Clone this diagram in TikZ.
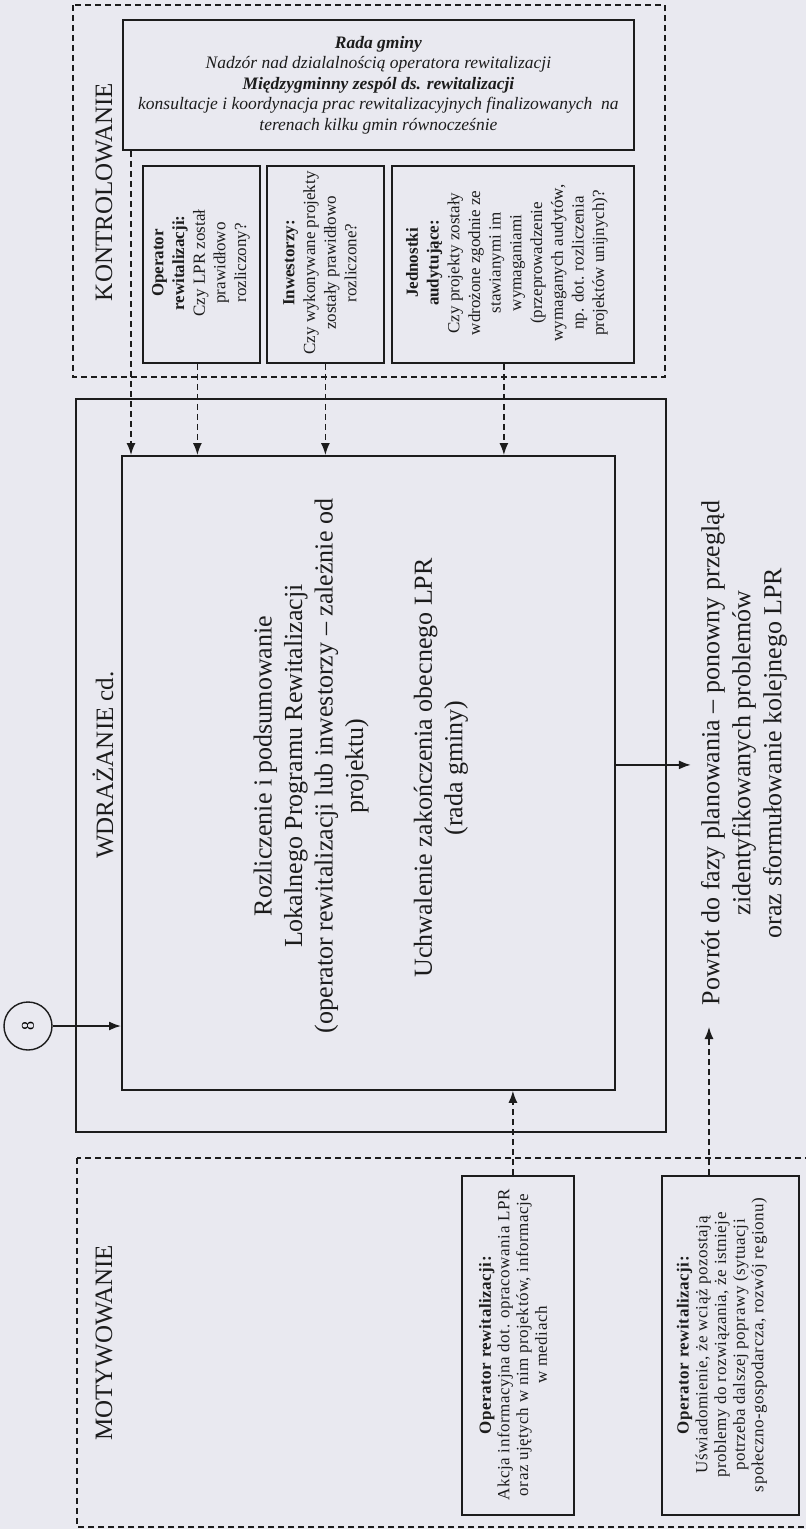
\documentclass[tikz,border=0pt]{standalone}
\usepackage{fontspec}
\setmainfont{Liberation Serif}
\usetikzlibrary{arrows.meta}
\definecolor{paper}{HTML}{E9E9F0}
\definecolor{ink}{HTML}{1C1C1C}
\newcommand{\fsz}[2]{\fontsize{#1}{#2}\selectfont}

\begin{document}
\begin{tikzpicture}[x=1pt,y=-1pt,
  box/.style={draw=ink,line width=1.8pt,rectangle,inner sep=0pt,anchor=north west},
  zone/.style={draw=ink,line width=1.4pt,dash pattern=on 6pt off 4pt},
  link/.style={draw=ink,line width=1.4pt,dash pattern=on 6pt off 4pt,-{Latex[length=12pt,width=9pt]}},
  flow/.style={draw=ink,line width=1.6pt,-{Latex[length=12pt,width=9pt]}},
  vtext/.style={rotate=90,align=center,inner sep=2pt,text=ink},
  title/.style={vtext,font=\fsz{25}{30}},
  big/.style={vtext,font=\fsz{26}{30.5}},
  small/.style={vtext,font=\fsz{17}{20.7}},
  tiny/.style={vtext,font=\fsz{17}{18.7}\addfontfeature{LetterSpace=3}},
]
\fill[paper] (0,0) rectangle (806,1529);
\useasboundingbox (0,0) rectangle (806,1529);
\clip (0,0) rectangle (806,1529);

% ---------- KONTROLOWANIE ----------
\draw[zone] (73,5) rectangle (665,377);
\node[title] (kontr) at (104,192) {KONTROLOWANIE};

\node[box,minimum width=511pt,minimum height=130pt] (rada) at (122,19) {};
\node[align=center,text=ink,font=\fsz{17.5}{20.5}\itshape] (radatxt) at (rada.center)
  {\textbf{Rada gminy}\\
   Nadzór nad dzialalnością operatora rewitalizacji\\
   \textbf{Międzygminny zespól ds. rewitalizacji}\\
   konsultacje i koordynacja prac rewitalizacyjnych finalizowanych\ \ na\\
   terenach kilku gmin równocześnie};

\node[box,minimum width=117pt,minimum height=197pt] (b1) at (142,165) {};
\node[box,minimum width=117pt,minimum height=197pt] (b2) at (266,165) {};
\node[box,minimum width=242pt,minimum height=197pt] (b3) at (391,165) {};

\node[small] (b1txt) at (201,263)
  {\textbf{Operator}\\\textbf{rewitalizacji:}\\Czy LPR został\\prawidłowo\\rozliczony?};
\node[small] (b2txt) at (320,263)
  {\textbf{Inwestorzy:}\\Czy wykonywane projekty\\zostały prawidłowo\\rozliczone?};
\node[small] (b3txt) at (507,263)
  {\textbf{Jednostki}\\\textbf{audytujące:}\\Czy projekty zostały\\wdrożone zgodnie ze\\stawianymi im\\wymaganiami\\(przeprowadzenie\\wymaganych audytów,\\np. dot. rozliczenia\\projektów unijnych)?};

% ---------- WDRAŻANIE ----------
\node[box,minimum width=590pt,minimum height=733pt] (wdr) at (75,398) {};
\node[title] (wdrt) at (103,765) {WDRAŻANIE cd.};
\node[box,minimum width=493pt,minimum height=634pt] (inner) at (121,455) {};

\node[big] (rozl) at (311,766)
  {Rozliczenie i podsumowanie\\Lokalnego Programu Rewitalizacji\\(operator rewitalizacji lub inwestorzy – zależnie od\\projektu)};
\node[big] (uchw) at (441,768)
  {Uchwalenie zakończenia obecnego LPR\\(rada gminy)};

\node[draw=ink,circle,line width=1.4pt,minimum size=48pt,inner sep=0pt,
      rotate=90,font=\fsz{18}{20}] (eight) at (28,1026) {8};
\draw[flow] (eight) -- (eight -| inner.west);

\node[big,font=\fsz{26}{31}] (powrot) at (744,753)
  {Powrót do fazy planowania – ponowny przegląd\\zidentyfikowanych problemów\\oraz sformułowanie kolejnego LPR};
\draw[flow,shorten >=8pt] ([yshift=8pt]inner.east) -- ([yshift=8pt]inner.east -| powrot.north);

% control links into the implementation box
\draw[link] ([xshift=9pt]rada.south west) -- ([xshift=9pt]rada.south west |- inner.north);
\draw[link] ([xshift=-4pt]b1.south) -- ([xshift=-4pt]b1.south |- inner.north);
\draw[link] (b2.south) -- (b2.south |- inner.north);
\draw[link] ([xshift=-9pt]b3.south) -- ([xshift=-9pt]b3.south |- inner.north);

% ---------- MOTYWOWANIE ----------
\draw[zone] (77,1158) rectangle (840,1527);
\node[title] (motyw) at (104,1343) {MOTYWOWANIE};

\node[box,minimum width=112pt,minimum height=339pt] (akcja) at (461,1175) {};
\node[box,minimum width=137pt,minimum height=339pt] (usw) at (661,1175) {};

\node[tiny] (akcjatxt) at (513,1345)
  {\textbf{Operator rewitalizacji:}\\Akcja informacyjna dot. opracowania LPR\\oraz ujętych w nim projektów, informacje\\w mediach};
\node[tiny] (uswtxt) at (722,1345)
  {\textbf{Operator rewitalizacji:}\\Uświadomienie, że wciąż pozostają\\problemy do rozwiązania, że istnieje\\potrzeba dalszej poprawy (sytuacji\\społeczno-gospodarcza, rozwój regionu)};

\draw[link] ([xshift=-5pt]akcja.north) -- ([xshift=-5pt]akcja.north |- inner.south);
\coordinate (back) at (709,1027);
\draw[link] (usw.north -| back) -- (back);
\end{tikzpicture}
\end{document}
